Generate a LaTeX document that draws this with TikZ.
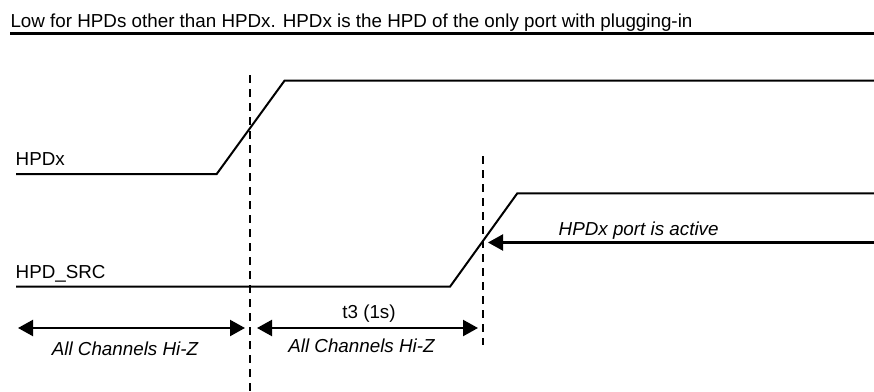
\documentclass[tikz,border=0pt]{standalone}
\usepackage{fontspec}
\setmainfont{Liberation Sans}
\usetikzlibrary{arrows.meta}
\begin{document}
\begin{tikzpicture}[x=1pt,y=-1pt,
  txt/.style={inner sep=0pt,font=\fontsize{18.8}{22}\selectfont},
  itxt/.style={txt,font=\fontsize{18.8}{22}\selectfont\itshape},
  sig/.style={line width=2pt,line join=miter},
  guide/.style={line width=2pt,dash pattern=on 8pt off 6pt},
  dimarrow/.style={line width=2.2pt,{Triangle[length=15pt,width=16pt]}-{Triangle[length=15pt,width=16pt]}},
  onearrow/.style={line width=2.2pt,-{Triangle[length=15pt,width=16pt]}}]
\useasboundingbox (0,0) rectangle (874,391);
% title
\node[txt,anchor=base west] (title) at (10.3,27.3) {Low for HPDs other than HPDx. HPDx is the HPD of the only port with plugging-in};
\coordinate (tl) at (10,33.5);
\coordinate (tr) at (874,33.5);
\draw[line width=2.2pt] (tl) -- (tr);
% signal labels
\node[txt,anchor=base west] (lx) at (15.5,165) {HPDx};
\node[txt,anchor=base west] (ls) at (15.5,278.3) {HPD\_SRC};
% HPDx waveform
\coordinate (x0) at (16,174);
\coordinate (x1) at (216.7,174);
\coordinate (x2) at (284.5,80.7);
\coordinate (x3) at (874,80.7);
\draw[sig] (x0) -- (x1) -- (x2) -- (x3);
% HPD_SRC waveform
\coordinate (s0) at (16,286.7);
\coordinate (s1) at (450,286.7);
\coordinate (s2) at (517.3,193.3);
\coordinate (s3) at (874,193.3);
\draw[sig] (s0) -- (s1) -- (s2) -- (s3);
% dashed guides
\coordinate (g1t) at (250,75);
\coordinate (g1b) at (250,391);
\coordinate (g2t) at (483,156);
\coordinate (g2b) at (483,345);
\draw[guide] (g1t) -- (g1b);
\draw[guide] (g2t) -- (g2b);
% active arrow
\coordinate (aR) at (874,242.5);
\coordinate (aL) at (488,242.5);
\draw[onearrow] (aR) -- (aL);
\node[itxt,anchor=base west] (act) at (558.5,235) {HPDx port is active};
% bottom arrows
\coordinate (b1l) at (18,328);
\coordinate (b1r) at (245,328);
\coordinate (b2l) at (257,328);
\coordinate (b2r) at (478,328);
\draw[dimarrow] (b1l) -- (b1r);
\draw[dimarrow] (b2l) -- (b2r);
\node[itxt,anchor=base] (hz1) at (125,355) {All Channels Hi-Z};
\node[itxt,anchor=base] (hz2) at (361.5,352.3) {All Channels Hi-Z};
\node[txt,anchor=base] (t3) at (369,318.5) {t3 (1s)};
\end{tikzpicture}
\end{document}
